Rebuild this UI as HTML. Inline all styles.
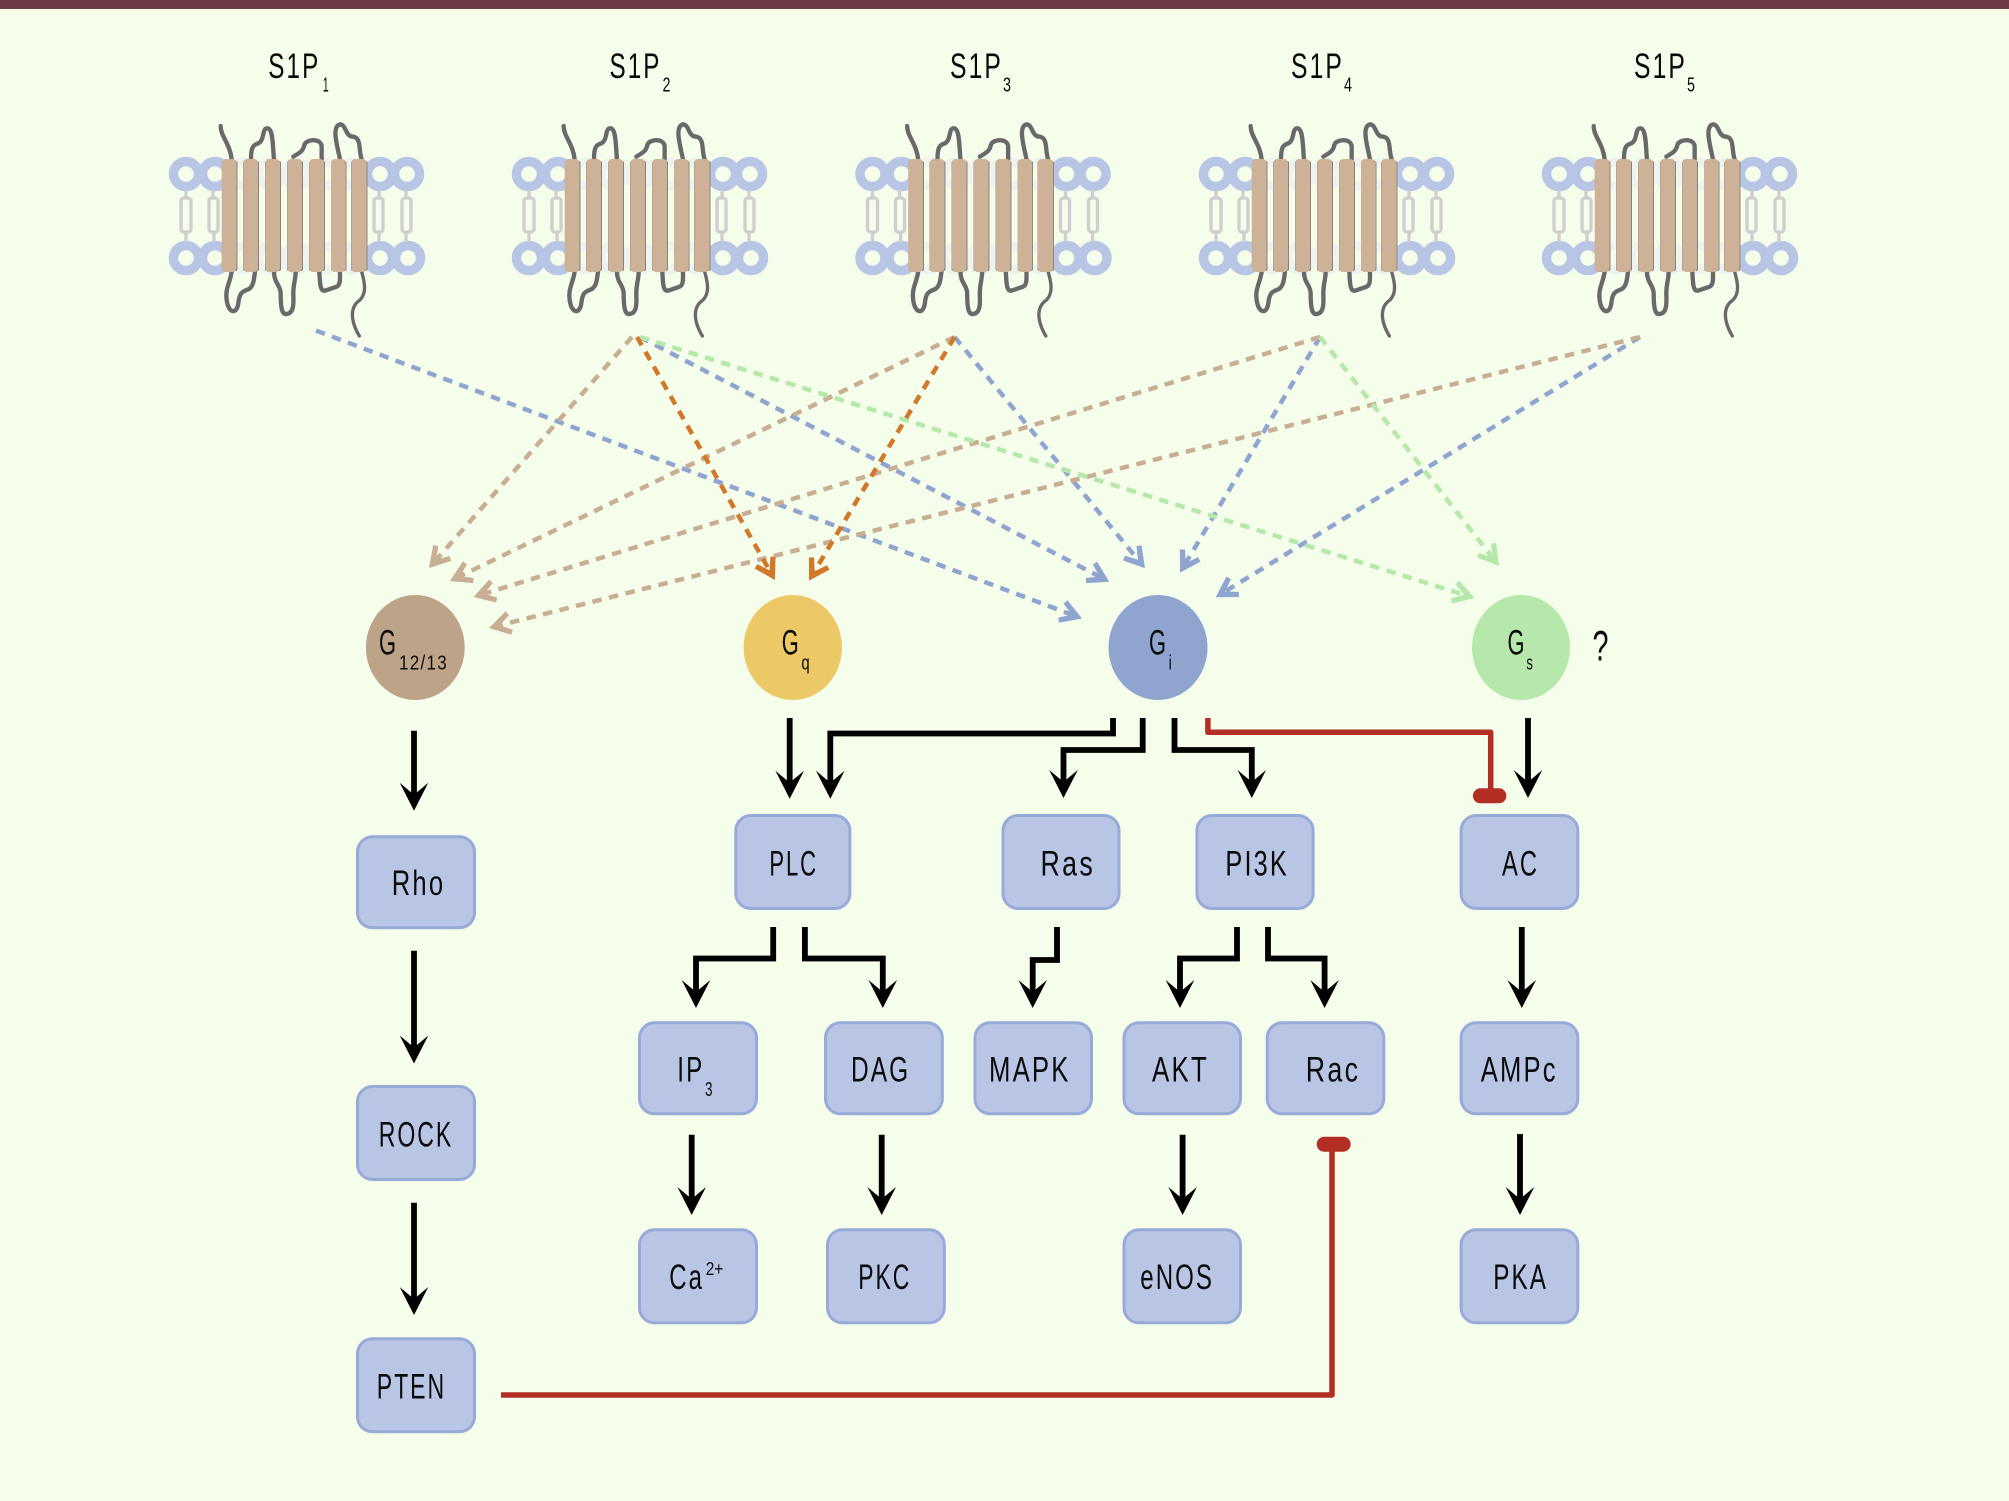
<!DOCTYPE html>
<html><head><meta charset="utf-8"><title>S1P receptor signalling</title>
<style>
html,body{margin:0;padding:0;background:#f5fdeb}
svg{display:block}
text{font-family:"Liberation Sans",sans-serif;fill:#0a0a0a}
.k{fill:none;stroke:#000;stroke-width:5.8;stroke-linejoin:miter;marker-end:url(#ah)}
.r{fill:none;stroke:#b32e25;stroke-width:5.5;stroke-linejoin:round}
.d{fill:none;stroke-width:4.5;stroke-dasharray:9.5 7.5}
.b{fill:#b9c5e4;stroke:#98aad8;stroke-width:3}
.l{font-size:35px;letter-spacing:3px}.g{font-size:35px}.s{font-size:20px}.w{font-size:20px;letter-spacing:1.5px}
</style></head><body>
<svg xmlns="http://www.w3.org/2000/svg" width="2009" height="1501" viewBox="0 0 2009 1501">
<defs>
<marker id="ah" markerUnits="userSpaceOnUse" orient="auto" refX="-10" refY="0" markerWidth="40" markerHeight="40" overflow="visible"><path d="M0,0 L-28,-14.3 L-16,0 L-28,14.3 Z" fill="#000"/></marker>
<marker id="mb" markerUnits="userSpaceOnUse" orient="auto" refX="-8" refY="0" markerWidth="40" markerHeight="40" overflow="visible"><path d="M0,0 L-20,-12 L-22.5,-7.5 L-11,0 L-22.5,7.5 L-20,12 Z" fill="#8fa5d0"/></marker>
<marker id="mt" markerUnits="userSpaceOnUse" orient="auto" refX="-8" refY="0" markerWidth="40" markerHeight="40" overflow="visible"><path d="M0,0 L-20,-12 L-22.5,-7.5 L-11,0 L-22.5,7.5 L-20,12 Z" fill="#c7ae94"/></marker>
<marker id="mo" markerUnits="userSpaceOnUse" orient="auto" refX="-8" refY="0" markerWidth="40" markerHeight="40" overflow="visible"><path d="M0,0 L-20,-12 L-22.5,-7.5 L-11,0 L-22.5,7.5 L-20,12 Z" fill="#d1782a"/></marker>
<marker id="mg" markerUnits="userSpaceOnUse" orient="auto" refX="-8" refY="0" markerWidth="40" markerHeight="40" overflow="visible"><path d="M0,0 L-20,-12 L-22.5,-7.5 L-11,0 L-22.5,7.5 L-20,12 Z" fill="#b5e8aa"/></marker>
<g id="rc">
  <g fill="none" stroke="#edf3ee" stroke-width="9">
    <circle cx="93" cy="144" r="12"/><circle cx="120" cy="144" r="12"/><circle cx="147" cy="144" r="12"/><circle cx="175" cy="144" r="12"/><circle cx="203" cy="144" r="12"/>
    <circle cx="93" cy="228" r="12"/><circle cx="120" cy="228" r="12"/><circle cx="147" cy="228" r="12"/><circle cx="175" cy="228" r="12"/><circle cx="203" cy="228" r="12"/>
  </g>
  <g fill="none" stroke="#b8c5e4" stroke-width="9.5">
    <circle cx="36" cy="144" r="12.5"/><circle cx="65" cy="144" r="12.5"/><circle cx="230" cy="144" r="12.5"/><circle cx="257" cy="144" r="12.5"/>
    <circle cx="36" cy="228" r="12.5"/><circle cx="65" cy="228" r="12.5"/><circle cx="230" cy="228" r="12.5"/><circle cx="258" cy="228" r="12.5"/>
  </g>
  <g fill="none" stroke="#cfcfcf" stroke-width="3.3">
    <path d="M36 160V168"/><rect x="31" y="168" width="10" height="34" rx="3"/><path d="M36 202V212"/>
    <path d="M63 160V168"/><rect x="59" y="168" width="9" height="34" rx="3"/><path d="M64 202V212"/>
    <path d="M229 160V168"/><rect x="224" y="168" width="9" height="34" rx="3"/><path d="M229 202V212"/>
    <path d="M256 160V168"/><rect x="252" y="168" width="9" height="34" rx="3"/><path d="M256 202V212"/>
  </g>
  <g transform="scale(.3333)" fill="none" stroke="#69696b" stroke-width="13" stroke-linecap="round" stroke-linejoin="round">
    <path d="M212 288C212 320 240 340 245 388"/>
    <path d="M303 388C303 350 310 345 325 340C345 330 335 295 352 295C370 295 368 350 372 388"/>
    <path d="M430 380C445 370 460 365 463 345C470 325 515 325 515 350L515 388"/>
    <path d="M570 388C560 340 545 290 570 283C590 285 585 320 610 320C635 325 625 360 635 388"/>
    <path d="M245 725C240 760 225 775 230 810C235 850 260 855 265 820C268 790 275 785 295 778C310 770 312 750 315 725"/>
    <path d="M372 725C372 760 392 765 392 790C392 830 395 855 410 852C435 850 430 810 430 790C430 760 437 750 437 725"/>
    <path d="M508 725C510 760 510 785 525 782L560 770C572 765 570 745 570 725"/>
    <path d="M635 725C645 760 650 790 630 810C600 830 600 870 628 918" stroke-width="10"/>
  </g>
  <g fill="#8a817a">
    <rect x="72" y="131" width="15.5" height="110" rx="2"/><rect x="93" y="131" width="16" height="110" rx="2"/><rect x="115" y="131" width="16" height="110" rx="2"/><rect x="137" y="131" width="16" height="110" rx="2"/><rect x="159" y="131" width="16" height="110" rx="2"/><rect x="181" y="131" width="15.5" height="110" rx="2"/><rect x="201" y="131" width="16.5" height="110" rx="2"/>
  </g>
  <g fill="#cdb297">
    <rect x="71.7" y="129" width="14.8" height="113" rx="4"/><rect x="93.3" y="129" width="14.7" height="113" rx="4"/><rect x="115.3" y="129" width="14.7" height="113" rx="4"/><rect x="137.3" y="129" width="14.7" height="113" rx="4"/><rect x="159.3" y="129" width="14.7" height="113" rx="4"/><rect x="181" y="129" width="14.7" height="113" rx="4"/><rect x="201.3" y="129" width="15.3" height="113" rx="4"/>
  </g>
</g>
</defs>

<rect width="2009" height="1501" fill="#f5fdeb"/>
<rect width="2009" height="9" fill="#6f3a46"/>

<!-- Receptors -->
<use href="#rc" transform="translate(150,30)"/>
<use href="#rc" transform="translate(493,30)"/>
<use href="#rc" transform="translate(836.5,30)"/>
<use href="#rc" transform="translate(1180,30)"/>
<use href="#rc" transform="translate(1523,30)"/>

<text class="l" x="268.3" y="78" textLength="52" lengthAdjust="spacingAndGlyphs">S1P</text><text class="s" x="322.7" y="91.5" textLength="6" lengthAdjust="spacingAndGlyphs">1</text>
<text class="l" x="609.5" y="78" textLength="52" lengthAdjust="spacingAndGlyphs">S1P</text><text class="s" x="662.5" y="91.5" textLength="8" lengthAdjust="spacingAndGlyphs">2</text>
<text class="l" x="950" y="78" textLength="53" lengthAdjust="spacingAndGlyphs">S1P</text><text class="s" x="1003" y="91.5" textLength="8" lengthAdjust="spacingAndGlyphs">3</text>
<text class="l" x="1291" y="78" textLength="53" lengthAdjust="spacingAndGlyphs">S1P</text><text class="s" x="1344" y="91.5" textLength="8" lengthAdjust="spacingAndGlyphs">4</text>
<text class="l" x="1634" y="78" textLength="53" lengthAdjust="spacingAndGlyphs">S1P</text><text class="s" x="1687" y="91.5" textLength="8" lengthAdjust="spacingAndGlyphs">5</text>

<!-- Dashed connectors -->
<path class="d" stroke="#8fa5d0" marker-end="url(#mb)" d="M316 330.6L1074.5 615.7"/>
<path class="d" stroke="#8fa5d0" marker-end="url(#mb)" d="M640 337L1102.2 578"/>
<path class="d" stroke="#8fa5d0" marker-end="url(#mb)" d="M954.6 337L1139.9 562.1"/>
<path class="d" stroke="#8fa5d0" marker-end="url(#mb)" d="M1320 337L1184.1 565.8"/>
<path class="d" stroke="#8fa5d0" marker-end="url(#mb)" d="M1640 337L1222.5 593.1"/>
<path class="d" stroke="#c7ae94" marker-end="url(#mt)" d="M632 337L434.3 562"/>
<path class="d" stroke="#c7ae94" marker-end="url(#mt)" d="M954.6 337L457.2 577.5"/>
<path class="d" stroke="#c7ae94" marker-end="url(#mt)" d="M1320 337L481.2 594.6"/>
<path class="d" stroke="#c7ae94" marker-end="url(#mt)" d="M1640 337L496.8 626"/>
<path class="d" stroke="#b5e8aa" marker-end="url(#mg)" d="M640 337L1467 595.6"/>
<path class="d" stroke="#b5e8aa" marker-end="url(#mg)" d="M1320 337L1494.1 559.7"/>
<path class="d" stroke="#d1782a" marker-end="url(#mo)" d="M637 337L771 573"/>
<path class="d" stroke="#d1782a" marker-end="url(#mo)" d="M954.6 337L813.1 573.8"/>

<!-- G proteins -->
<ellipse cx="415.3" cy="647.5" rx="49.4" ry="52.5" fill="#bda488"/>
<ellipse cx="792.8" cy="647.5" rx="49.2" ry="52.5" fill="#edc866"/>
<ellipse cx="1158" cy="647.5" rx="49.5" ry="52.5" fill="#8fa5d0"/>
<ellipse cx="1521" cy="647.5" rx="49" ry="52.5" fill="#b5e8aa"/>
<text class="g" x="379" y="654.3" textLength="17" lengthAdjust="spacingAndGlyphs">G</text><text class="w" x="399" y="669.3" textLength="49" lengthAdjust="spacingAndGlyphs">12/13</text>
<text class="g" x="781.8" y="654.3" textLength="17" lengthAdjust="spacingAndGlyphs">G</text><text class="s" x="801.4" y="669.3" textLength="8.3" lengthAdjust="spacingAndGlyphs">q</text>
<text class="g" x="1149" y="654.3" textLength="17" lengthAdjust="spacingAndGlyphs">G</text><text class="s" x="1168.6" y="669.3" textLength="3.2" lengthAdjust="spacingAndGlyphs">i</text>
<text class="g" x="1507.5" y="654.3" textLength="17" lengthAdjust="spacingAndGlyphs">G</text><text class="s" x="1526.4" y="669.3" textLength="6.5" lengthAdjust="spacingAndGlyphs">s</text>
<text x="1592.5" y="660.7" font-size="43" textLength="16" lengthAdjust="spacingAndGlyphs">?</text>

<!-- Boxes -->
<rect class="b" x="357.5" y="836.8" width="117" height="91" rx="15"/>
<rect class="b" x="357.5" y="1086.5" width="117" height="93" rx="15"/>
<rect class="b" x="357.5" y="1338.8" width="117" height="93" rx="15"/>
<rect class="b" x="735.8" y="815.5" width="114.1" height="93" rx="15"/>
<rect class="b" x="1003" y="815.5" width="116" height="93" rx="15"/>
<rect class="b" x="1196.9" y="815.5" width="116.2" height="93" rx="15"/>
<rect class="b" x="1461.1" y="815.5" width="116.7" height="93" rx="15"/>
<rect class="b" x="639.5" y="1022.8" width="117" height="91" rx="15"/>
<rect class="b" x="825.5" y="1022.8" width="116.8" height="91" rx="15"/>
<rect class="b" x="975" y="1022.8" width="116.5" height="91" rx="15"/>
<rect class="b" x="1124" y="1022.8" width="116.5" height="91" rx="15"/>
<rect class="b" x="1267.2" y="1022.8" width="116.6" height="91" rx="15"/>
<rect class="b" x="1461.1" y="1022.8" width="116.7" height="91" rx="15"/>
<rect class="b" x="639.5" y="1229.8" width="117" height="93" rx="15"/>
<rect class="b" x="827.5" y="1229.8" width="116.8" height="93" rx="15"/>
<rect class="b" x="1124" y="1229.8" width="116.5" height="93" rx="15"/>
<rect class="b" x="1461.1" y="1229.8" width="116.7" height="93" rx="15"/>

<!-- Box labels -->
<text class="l" x="391.7" y="895" textLength="53.6" lengthAdjust="spacingAndGlyphs">Rho</text>
<text class="l" x="378.7" y="1146.7" textLength="74.5" lengthAdjust="spacingAndGlyphs">ROCK</text>
<text class="l" x="376.7" y="1398.3" textLength="69.5" lengthAdjust="spacingAndGlyphs">PTEN</text>
<text class="l" x="769.4" y="875.3" textLength="48.5" lengthAdjust="spacingAndGlyphs">PLC</text>
<text class="l" x="1040.5" y="875.3" textLength="54.5" lengthAdjust="spacingAndGlyphs">Ras</text>
<text class="l" x="1225.4" y="875.3" textLength="63.6" lengthAdjust="spacingAndGlyphs">PI3K</text>
<text class="l" x="1502" y="875.3" textLength="37" lengthAdjust="spacingAndGlyphs">AC</text>
<text class="l" x="677.3" y="1081.7" textLength="27" lengthAdjust="spacingAndGlyphs">IP</text><text class="s" x="705" y="1096" textLength="7.5" lengthAdjust="spacingAndGlyphs">3</text>
<text class="l" x="851" y="1081.7" textLength="59.3" lengthAdjust="spacingAndGlyphs">DAG</text>
<text class="l" x="989" y="1081.7" textLength="81.6" lengthAdjust="spacingAndGlyphs">MAPK</text>
<text class="l" x="1152" y="1081.7" textLength="57" lengthAdjust="spacingAndGlyphs">AKT</text>
<text class="l" x="1305.7" y="1081.7" textLength="54.6" lengthAdjust="spacingAndGlyphs">Rac</text>
<text class="l" x="1480.7" y="1081.7" textLength="77" lengthAdjust="spacingAndGlyphs">AMPc</text>
<text class="l" x="669.3" y="1289" textLength="34.7" lengthAdjust="spacingAndGlyphs">Ca</text><text x="705.7" y="1275" font-size="18" textLength="17.6" lengthAdjust="spacingAndGlyphs">2+</text>
<text class="l" x="858.3" y="1289" textLength="53" lengthAdjust="spacingAndGlyphs">PKC</text>
<text class="l" x="1140.3" y="1289" textLength="73.7" lengthAdjust="spacingAndGlyphs">eNOS</text>
<text class="l" x="1493.3" y="1289" textLength="54.7" lengthAdjust="spacingAndGlyphs">PKA</text>

<!-- Black arrows -->
<path class="k" d="M414 730.7V800.7"/>
<path class="k" d="M414 950.7V1053.5"/>
<path class="k" d="M414 1202.7V1305"/>
<path class="k" d="M789.7 718V788.7"/>
<path class="k" d="M1113 718V733.5H830.3V788.7"/>
<path class="k" d="M1142.7 718V750H1063.5V788"/>
<path class="k" d="M1174.5 718V750H1251.8V788"/>
<path class="k" d="M1528 718V788"/>
<path class="k" d="M1521.8 927V998"/>
<path class="k" d="M773.2 927V958.5H696V998"/>
<path class="k" d="M804.9 927V958.5H882.8V998"/>
<path class="k" d="M1057 927V960H1032.7V998"/>
<path class="k" d="M1237 927V958.5H1180V998"/>
<path class="k" d="M1268 927V958.5H1324.6V998"/>
<path class="k" d="M691.7 1134.7V1205"/>
<path class="k" d="M881.7 1134.7V1205"/>
<path class="k" d="M1182.6 1134.7V1205"/>
<path class="k" d="M1520 1134V1205"/>

<!-- Red inhibition -->
<path class="r" d="M1207.9 718V732.3H1490.7V796"/>
<rect x="1472.9" y="788.3" width="33.5" height="15" rx="7.5" fill="#b32e25"/>
<path class="r" d="M501 1395H1332V1144"/>
<rect x="1316.7" y="1136.7" width="34" height="15" rx="7.5" fill="#b32e25"/>
</svg>
</body></html>
